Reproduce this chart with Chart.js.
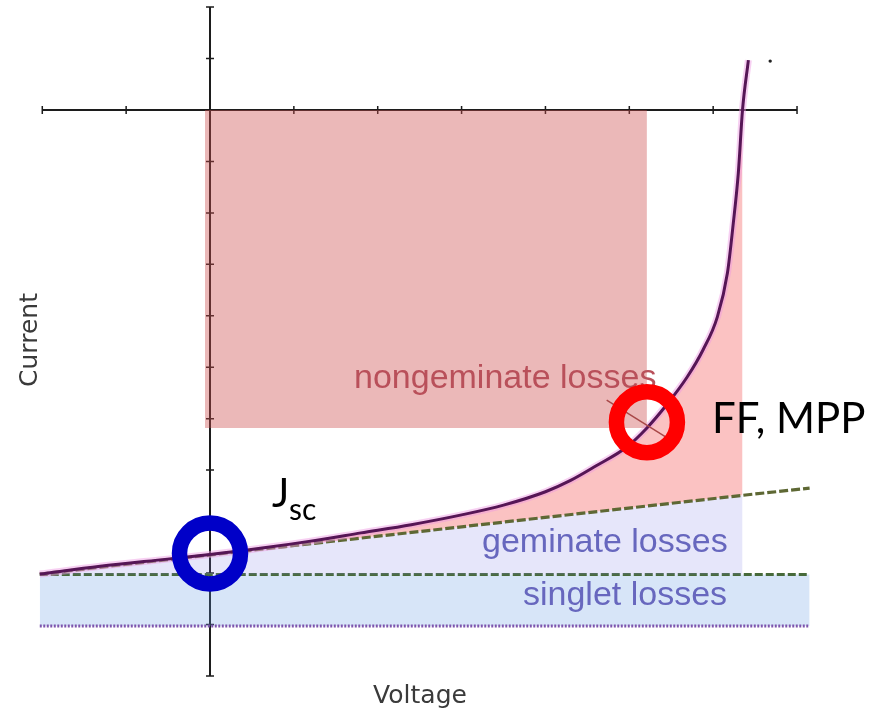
<!DOCTYPE html>
<html>
<head>
<meta charset="utf-8">
<title>Current–voltage losses</title>
<script src="https://cdn.jsdelivr.net/npm/chart.js@4.4.1/dist/chart.umd.min.js"></script>
<style>
  html, body { margin: 0; padding: 0; background: #ffffff; }
  canvas { display: block; }
</style>
</head>
<body>
<canvas id="iv" width="882" height="711"></canvas>
<script>
// Current–voltage curve of the cell (one unit = one tick on each axis)
const ivVoltage = [-2.03, -1.31, -0.51, 0, 0.6, 1.2, 1.8, 2.4, 3.0, 3.5, 4.0, 4.3, 4.6, 4.97, 5.21, 5.45, 5.69, 5.88, 6.05, 6.17, 6.24, 6.30, 6.35, 6.42];
const ivCurrent = [-9.02, -8.87, -8.73, -8.64, -8.52, -8.38, -8.22, -8.06, -7.87, -7.68, -7.42, -7.20, -6.92, -6.55, -6.18, -5.72, -5.19, -4.66, -4.02, -3.17, -2.20, -1.22, 0, 0.97];

// Upper edge of the geminate losses (field-dependent generation, dashed)
const geminateVoltage = [-2.03, 6.35, 7.15];
const geminateCurrent = [-9.02, -7.49, -7.35];

// Singlet losses band
const singletVoltage = [-2.03, 7.15];
const singletTop = [-9.03, -9.03];
const singletBottom = [-10.03, -10.03];

// Open-circuit voltage, maximum power point and the power rectangle
const vocVoltage = 6.35;
const mppVoltage = 5.21;
const mppCurrent = -6.18;
const rectLeftVoltage = -0.06;

// Highlighted operating points (short circuit, maximum power point)
const ringVoltage = [0, 5.21];
const ringCurrent = [-8.62, -6.07];

// Leader from the "nongeminate losses" label
const leaderVoltage = [4.73, 5.49];
const leaderCurrent = [-5.64, -6.41];

// Small stray mark near the top of the curve
const dotVoltage = [6.68];
const dotCurrent = [0.95];

// Axis tick positions
const xTickValues = [-2, -1, 0, 1, 2, 3, 4, 5, 6, 7];
const yTickValues = [-11, -10, -9, -8, -7, -6, -5, -4, -3, -2, -1, 0, 1, 2];

const pts = (xs, ys) => xs.map((x, i) => ({ x: x, y: ys[i] }));
const curvePts = pts(ivVoltage, ivCurrent);
const curveToVoc = curvePts.filter(p => p.x <= vocVoltage);
const geminatePts = pts(geminateVoltage, geminateCurrent);
const geminateToVoc = geminatePts.filter(p => p.x <= vocVoltage);

const base = { pointRadius: 0, pointHoverRadius: 0, borderWidth: 0, fill: false, tension: 0 };

const datasets = [
  Object.assign({}, base, {
    label: 'singlet losses', data: pts(singletVoltage, singletTop),
    fill: { value: singletBottom[0] }, backgroundColor: 'rgba(99,155,227,0.26)',
    borderColor: '#476a3a', borderWidth: 3, borderDash: [8, 3], order: 10
  }),
  Object.assign({}, base, {
    label: 'singlet floor', data: pts(singletVoltage, singletBottom),
    borderColor: '#7d55ad', borderWidth: 3, borderDash: [2, 1.5], order: 9
  }),
  Object.assign({}, base, {
    label: 'geminate losses', data: geminateToVoc,
    fill: { value: singletTop[0] }, backgroundColor: 'rgba(130,130,232,0.2)', order: 8
  }),
  Object.assign({}, base, {
    label: 'nongeminate losses', data: curveToVoc, cubicInterpolationMode: 'monotone',
    fill: 5, backgroundColor: '#fbc2c2', order: 7
  }),
  Object.assign({}, base, {
    label: 'power rectangle', data: [{ x: rectLeftVoltage, y: 0 }, { x: mppVoltage, y: 0 }],
    fill: { value: mppCurrent }, backgroundColor: 'rgba(205,78,78,0.4)', order: 6
  }),
  Object.assign({}, base, {
    label: 'geminate edge', data: geminatePts,
    borderColor: '#5e6834', borderWidth: 3.2, borderDash: [9, 3], order: 5
  }),
  Object.assign({}, base, {
    label: 'curve glow', data: curvePts, cubicInterpolationMode: 'monotone',
    borderColor: 'rgba(238,150,226,0.45)', borderWidth: 7, order: 4
  }),
  Object.assign({}, base, {
    label: 'J-V', data: curvePts, cubicInterpolationMode: 'monotone',
    borderColor: '#561656', borderWidth: 3, order: 3
  }),
  Object.assign({}, base, {
    label: 'leader', data: pts(leaderVoltage, leaderCurrent),
    borderColor: '#a84848', borderWidth: 1.5, order: 2
  }),
  Object.assign({}, base, {
    label: 'rings', data: pts(ringVoltage, ringCurrent), showLine: false,
    pointRadius: 30.5, pointHoverRadius: 30.5, pointBorderWidth: 15.5,
    pointBorderColor: ['#0000c8', '#ff0000'], pointBackgroundColor: 'rgba(0,0,0,0)', order: 1
  }),
  Object.assign({}, base, {
    label: 'dot', data: pts(dotVoltage, dotCurrent), showLine: false,
    pointRadius: 1.7, pointBorderWidth: 0, pointBackgroundColor: '#222222', order: 0
  })
];
const ringIndex = 9;

// Axes crossing at the origin, with small cross ticks
const crossAxes = {
  id: 'crossAxes',
  beforeDatasetsDraw(chart) {
    const { ctx, scales: { x, y } } = chart;
    const x0 = x.getPixelForValue(0);
    const y0 = y.getPixelForValue(0);
    ctx.save();
    ctx.strokeStyle = '#1c1c1c';
    ctx.lineWidth = 2;
    ctx.beginPath();
    ctx.moveTo(x.getPixelForValue(xTickValues[0]), y0);
    ctx.lineTo(x.getPixelForValue(xTickValues[xTickValues.length - 1]), y0);
    ctx.moveTo(x0, y.getPixelForValue(yTickValues[0]));
    ctx.lineTo(x0, y.getPixelForValue(yTickValues[yTickValues.length - 1]));
    ctx.stroke();
    ctx.lineWidth = 1.5;
    ctx.beginPath();
    xTickValues.forEach(v => {
      const px = x.getPixelForValue(v);
      ctx.moveTo(px, y0 - 4); ctx.lineTo(px, y0 + 4);
    });
    yTickValues.forEach(v => {
      const py = y.getPixelForValue(v);
      ctx.moveTo(x0 - 4, py); ctx.lineTo(x0 + 4, py);
    });
    ctx.stroke();
    ctx.restore();
  }
};

// Region labels sit under the highlight rings; titles and notes on top
const labels = {
  id: 'labels',
  beforeDatasetDraw(chart, args) {
    if (args.index !== ringIndex) return;
    const ctx = chart.ctx;
    ctx.save();
    ctx.textBaseline = 'alphabetic';
    ctx.textAlign = 'left';
    ctx.font = '34px "Liberation Sans", Arial, sans-serif';
    ctx.fillStyle = '#b9505a';
    ctx.fillText('nongeminate losses', 354, 388);
    ctx.fillStyle = '#6767be';
    ctx.fillText('geminate losses', 482, 552);
    ctx.fillText('singlet losses', 523, 605);
    ctx.restore();
  },
  afterDatasetsDraw(chart) {
    const ctx = chart.ctx;
    ctx.save();
    ctx.textBaseline = 'alphabetic';
    ctx.fillStyle = '#3a3a3a';
    ctx.font = '25px "DejaVu Sans", sans-serif';
    ctx.textAlign = 'center';
    ctx.fillText('Voltage', 420, 703);
    ctx.save();
    ctx.translate(37, 340);
    ctx.rotate(-Math.PI / 2);
    ctx.fillText('Current', 0, 0);
    ctx.restore();

    ctx.fillStyle = '#000000';
    ctx.textAlign = 'left';
    ctx.font = '41px Lato, "Open Sans", sans-serif';
    ctx.fillText('J', 272, 507);
    ctx.font = '30px Lato, "Open Sans", sans-serif';
    ctx.fillText('sc', 289, 520);
    ctx.font = '42px Lato, "Open Sans", sans-serif';
    ctx.fillText('FF, MPP', 712, 433);
    ctx.restore();
  }
};

new Chart(document.getElementById('iv'), {
  type: 'line',
  data: { datasets: datasets },
  options: {
    responsive: false,
    animation: false,
    devicePixelRatio: 1,
    events: [],
    layout: { autoPadding: false, padding: { left: 38.09, right: 68.2, top: 1.95, bottom: 19.65 } },
    plugins: { legend: { display: false }, tooltip: { enabled: false } },
    scales: {
      x: { type: 'linear', min: -2.05, max: 7.2, display: false },
      y: { type: 'linear', min: -11.3, max: 2.1, display: false }
    }
  },
  plugins: [crossAxes, labels]
});
</script>
</body>
</html>
